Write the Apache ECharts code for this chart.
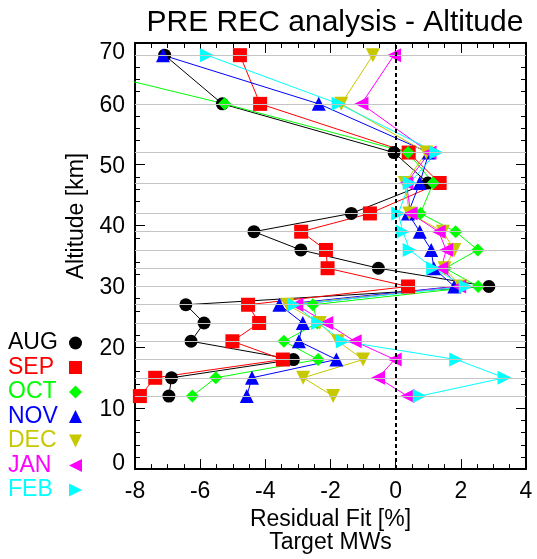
<!DOCTYPE html>
<html>
<head>
<meta charset="utf-8">
<script src="https://cdn.jsdelivr.net/npm/echarts@6/dist/echarts.min.js"></script>
<style>html,body{margin:0;padding:0;background:#fff;}#c{width:537px;height:559px;}</style>
</head>
<body>
<div id="c"></div>
<script>
const altitudes = [68, 60, 52, 47, 42, 39, 36, 33, 30, 27, 24, 21, 18, 15, 12];
const months = ['AUG', 'SEP', 'OCT', 'NOV', 'DEC', 'JAN', 'FEB'];
const aug = [-7.09, -5.32, -0.05, 0.99, -1.36, -4.35, -2.91, -0.53, 2.86, -6.44, -5.88, -6.28, -3.14, -6.88, -6.96];
const sep = [-4.78, -4.16, 0.40, 1.35, -0.79, -2.90, -2.14, -2.09, 0.38, -4.53, -4.19, -5.01, -3.46, -7.38, -7.85];
const oct = [-11.4, -5.25, 0.38, 1.15, 0.76, 1.84, 2.52, 1.52, 2.53, -2.54, -2.40, -3.43, -2.38, -5.52, -6.24];
const nov = [-7.14, -2.36, 1.02, 0.74, 0.38, 0.74, 1.09, 1.17, 1.80, -3.57, -2.85, -2.97, -1.82, -4.41, -4.57];
const dec = [-0.70, -1.67, 0.94, 0.28, 0.42, 1.45, 1.80, 1.50, 2.00, -3.32, -2.33, -1.77, -1.00, -2.84, -1.92];
const jan = [-0.05, -1.05, 1.04, 0.33, 0.46, 1.32, 1.55, 1.40, 1.95, -3.05, -2.13, -1.26, -0.03, -0.54, 0.36];
const feb = [-5.79, -1.75, 1.25, 0.43, 0.08, 0.22, 0.43, 1.15, 2.15, -3.12, -2.38, -1.62, 1.86, 3.34, 0.74];
const xTicks = [-8, -6, -4, -2, 0, 2, 4];
const yTicks = [0, 10, 20, 30, 40, 50, 60, 70];

const values = [aug, sep, oct, nov, dec, jan, feb];
const colors = ['#000000', '#ff0000', '#00ff00', '#0000ff', '#c8c800', '#ff00ff', '#00ffff'];
const downTri = 'path://M0,0 L10,0 L5,10 Z';
const leftTri = 'path://M10,0 L10,10 L0,5 Z';
const rightTri = 'path://M0,0 L10,5 L0,10 Z';
const symbols = ['circle', 'rect', 'diamond', 'triangle', downTri, leftTri, rightTri];
const sizes = [13, 14, 13, 14, 14, 14, 14];
const FONT = '"Liberation Sans", Arial, Helvetica, sans-serif';

const series = months.map((m, i) => ({
  name: m,
  type: 'line',
  data: values[i].map((v, k) => [v, altitudes[k]]),
  symbol: symbols[i],
  symbolSize: sizes[i],
  showAllSymbol: true,
  color: colors[i],
  lineStyle: { width: 1, color: colors[i] },
  itemStyle: { color: colors[i] },
  clip: true,
  z: 3,
  animation: false
}));

series.unshift({
  name: 'refs',
  type: 'scatter',
  data: [[0, 0]],
  symbolSize: 0,
  silent: true,
  z: 1,
  animation: false,
  markLine: {
    silent: true,
    symbol: 'none',
    animation: false,
    label: { show: false },
    data: altitudes.map(a => ({ yAxis: a, lineStyle: { color: '#c4c4c4', width: 1, type: 'solid' } }))
      .concat([{ xAxis: 0, lineStyle: { color: '#000', width: 2, type: [4, 3] } }])
  }
});

const axisCommon = {
  axisLine: { show: true, onZero: false, lineStyle: { color: '#000', width: 2 } },
  axisTick: { show: true, inside: true, length: 10, lineStyle: { color: '#000', width: 1 } },
  minorTick: { show: true, length: 5, lineStyle: { color: '#000', width: 1 } },
  splitLine: { show: false }
};

const legendRich = {};
months.forEach((m, i) => {
  legendRich['m' + i] = { color: colors[i], fontSize: 23, fontFamily: FONT, width: 56, align: 'left', lineHeight: 24 };
});

const option = {
  backgroundColor: '#fff',
  animation: false,
  textStyle: { fontFamily: FONT },
  title: {
    text: 'PRE REC analysis - Altitude',
    left: 330, top: 3, textAlign: 'center',
    textStyle: { fontFamily: FONT, fontSize: 30, fontWeight: 'normal', color: '#000' }
  },
  legend: {
    orient: 'vertical', left: 8, top: 331, align: 'right', padding: 0,
    itemWidth: 13, itemHeight: 13, itemGap: 0.5,
    formatter: name => '{m' + months.indexOf(name) + '|' + name + '}',
    textStyle: { fontFamily: FONT, fontSize: 23, lineHeight: 24, rich: legendRich },
    data: months.map((m, i) => ({ name: m, icon: symbols[i], itemStyle: { color: colors[i] } }))
  },
  grid: { left: 135, right: 11, top: 43, bottom: 89, containLabel: false },
  xAxis: [
    Object.assign({}, axisCommon, {
      type: 'value', min: xTicks[0], max: xTicks[xTicks.length - 1], interval: 2,
      minorTick: Object.assign({}, axisCommon.minorTick, { splitNumber: 4 }),
      axisLabel: { color: '#000', fontSize: 23, fontFamily: FONT, margin: 11 },
      name: 'Residual Fit [%]\nTarget MWs', nameLocation: 'middle', nameGap: 38,
      nameTextStyle: { color: '#000', fontSize: 23, fontFamily: FONT, lineHeight: 23 }
    }),
    Object.assign({}, axisCommon, {
      type: 'value', position: 'top', min: xTicks[0], max: xTicks[xTicks.length - 1], interval: 2,
      minorTick: Object.assign({}, axisCommon.minorTick, { splitNumber: 4 }),
      axisLabel: { show: false }
    })
  ],
  yAxis: [
    Object.assign({}, axisCommon, {
      type: 'value', min: yTicks[0], max: yTicks[yTicks.length - 1], interval: 10,
      minorTick: Object.assign({}, axisCommon.minorTick, { splitNumber: 5 }),
      axisLabel: {
        color: '#000', fontSize: 23, fontFamily: FONT, margin: 10,
        formatter: v => v === yTicks[yTicks.length - 1] ? '{lo|' + v + '}' : (v === yTicks[0] ? '{hi|' + v + '}' : '{n|' + v + '}'),
        rich: {
          lo: { fontSize: 23, fontFamily: FONT, color: '#000', padding: [20, 0, 0, 0] },
          hi: { fontSize: 23, fontFamily: FONT, color: '#000', padding: [0, 0, 10, 0] },
          n: { fontSize: 23, fontFamily: FONT, color: '#000', padding: [3, 0, 0, 0] }
        }
      },
      name: 'Altitude [km]', nameLocation: 'middle', nameGap: 44, nameRotate: 90,
      nameTextStyle: { color: '#000', fontSize: 23, fontFamily: FONT, padding: [0, 0, 0, 80] }
    }),
    Object.assign({}, axisCommon, {
      type: 'value', position: 'right', min: yTicks[0], max: yTicks[yTicks.length - 1], interval: 10,
      minorTick: Object.assign({}, axisCommon.minorTick, { splitNumber: 5 }),
      axisLabel: { show: false }
    })
  ],
  series: series
};

const chart = echarts.init(document.getElementById('c'), null, { renderer: 'canvas' });
chart.setOption(option);
</script>
</body>
</html>
